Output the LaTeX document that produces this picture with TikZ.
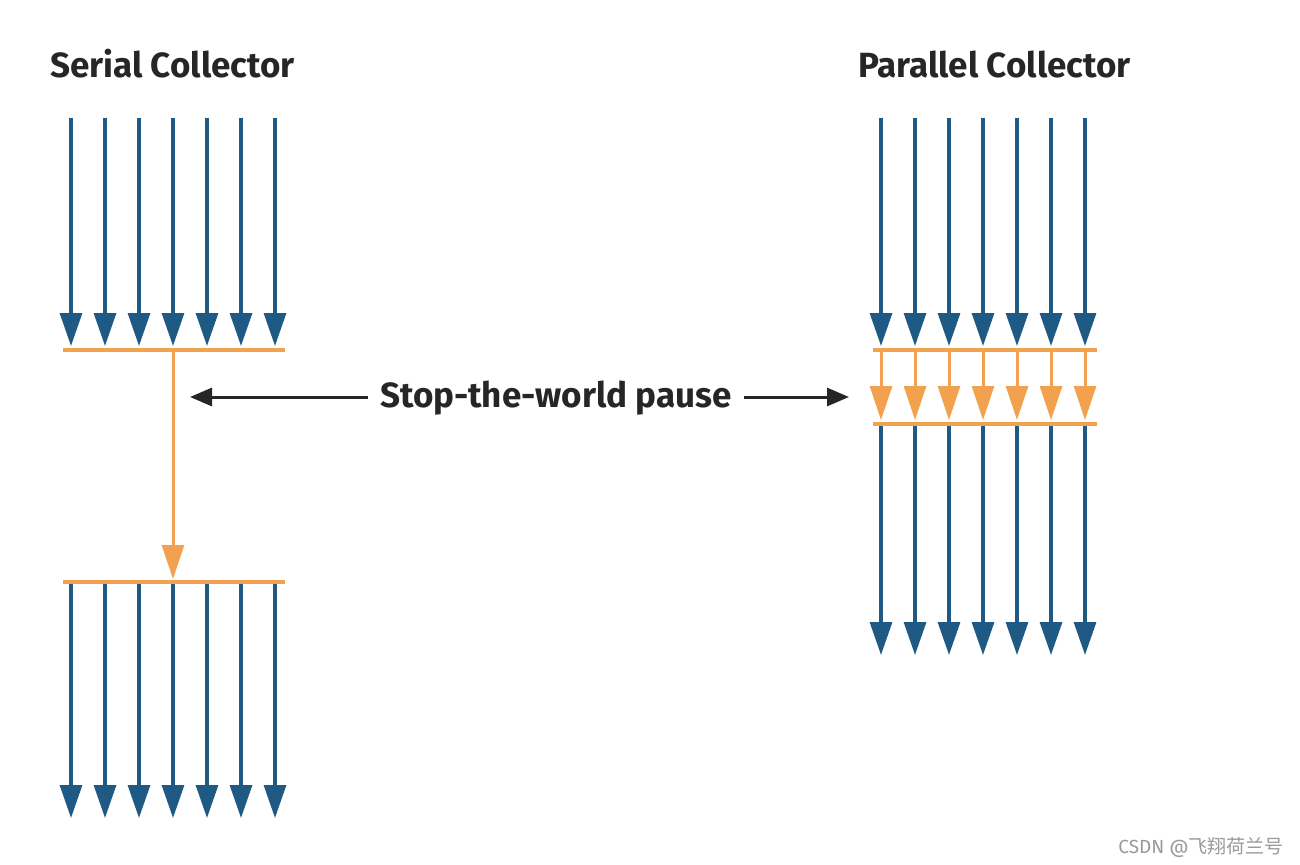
\documentclass[tikz,border=0pt]{standalone}
\usepackage{fontspec}
\setmainfont{Fira Sans}
\newfontfamily\cjk{Noto Sans CJK SC}
\usetikzlibrary{arrows.meta}
\definecolor{thread}{HTML}{1F5A85}
\definecolor{gcorange}{HTML}{F2A24F}
\definecolor{wm}{HTML}{9A9A9A}
\tikzset{
  bluearrow/.style={draw=thread, line width=3.2pt, -{Triangle[length=33pt,width=22pt]}},
  orangearrow/.style={draw=gcorange, line width=3pt, -{Triangle[length=34pt,width=22pt]}},
  barline/.style={draw=gcorange, line width=3.2pt},
  blackarrow/.style={draw=black!85, line width=3pt, -{Triangle[length=22pt,width=18pt]}},
  title/.style={font=\fontsize{35}{40}\selectfont\bfseries, text=black!85, inner sep=0pt},
}
\begin{document}
\begin{tikzpicture}[x=1pt,y=-1pt]
\useasboundingbox[fill=white] (0,0) rectangle (1300,864);
% titles
\node[title, anchor=base west] (st) at (50,78) {Serial Collector};
\node[title, anchor=base west] (pt) at (858,78) {Parallel Collector};
% serial collector
\foreach \i in {0,...,6} {
  \pgfmathsetmacro{\xx}{71+34*\i}
  \coordinate (s1a\i) at (\xx,118);
  \coordinate (s1b\i) at (\xx,346);
  \coordinate (s2a\i) at (\xx,582);
  \coordinate (s2b\i) at (\xx,818);
  \draw[bluearrow] (s1a\i) -- (s1b\i);
  \draw[bluearrow] (s2a\i) -- (s2b\i);
}
\coordinate (sl1a) at (63,350);
\coordinate (sl1b) at (285,350);
\coordinate (sl2a) at (63,582);
\coordinate (sl2b) at (285,582);
\draw[barline] (sl1a) -- (sl1b);
\draw[barline] (sl2a) -- (sl2b);
\coordinate (sga) at (173,350);
\coordinate (sgb) at (173,579);
\draw[orangearrow] (sga) -- (sgb);
% parallel collector
\foreach \i in {0,...,6} {
  \pgfmathsetmacro{\xx}{881+34*\i}
  \coordinate (p1a\i) at (\xx,118);
  \coordinate (p1b\i) at (\xx,346);
  \coordinate (pga\i) at (\xx,350);
  \coordinate (pgb\i) at (\xx,420);
  \coordinate (p2a\i) at (\xx,424);
  \coordinate (p2b\i) at (\xx,655);
  \draw[bluearrow] (p1a\i) -- (p1b\i);
  \draw[orangearrow] (pga\i) -- (pgb\i);
  \draw[bluearrow] (p2a\i) -- (p2b\i);
}
\coordinate (pl1a) at (873,350);
\coordinate (pl1b) at (1097,350);
\coordinate (pl2a) at (873,424);
\coordinate (pl2b) at (1097,424);
\draw[barline] (pl1a) -- (pl1b);
\draw[barline] (pl2a) -- (pl2b);
% stop-the-world
\node[title, anchor=base] (stw) at (556,407) {Stop-the-world pause};
\coordinate (lt) at (190,397);
\coordinate (rt) at (849,397);
\draw[blackarrow] ([xshift=-12pt]stw.west |- lt) -- (lt);
\draw[blackarrow] ([xshift=12pt]stw.east |- rt) -- (rt);
% watermark
\node[anchor=base east, inner sep=0pt, text=wm, font=\fontsize{19}{22}\selectfont] (wm) at (1284,853) {CSDN @{\cjk 飞翔荷兰号}};
\end{tikzpicture}
\end{document}
